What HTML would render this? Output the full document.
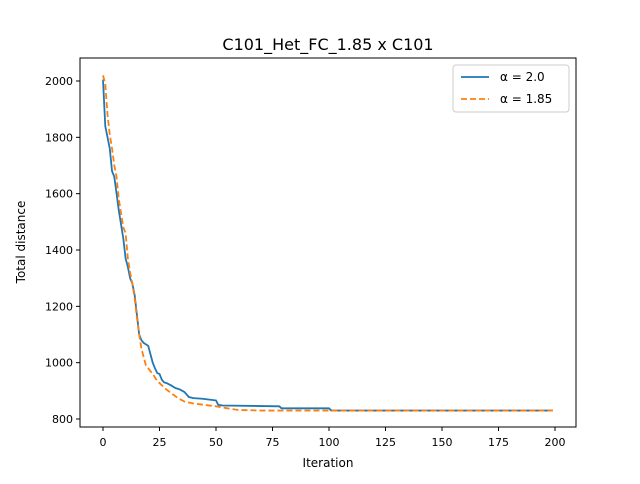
<!DOCTYPE html>
<html><head><meta charset="utf-8"><style>
body{margin:0;background:#fff;font-family:"DejaVu Sans","Liberation Sans",sans-serif}
</style></head><body>
<svg id="chart" width="640" height="480" xmlns="http://www.w3.org/2000/svg" font-family="DejaVu Sans, Liberation Sans, sans-serif">
<rect width="640" height="480" fill="#fff"/>
<text x="328" y="50" font-size="16" text-anchor="middle">C101_Het_FC_1.85 x C101</text>
<g id="plot"></g>
<rect x="80" y="58" width="496" height="369" fill="none" stroke="#000" stroke-width="1"/>
<text x="328" y="467" font-size="12" text-anchor="middle">Iteration</text>
<text x="25" y="242" font-size="12" text-anchor="middle" transform="rotate(-90 25 242)">Total distance</text>
<g>
<rect x="453" y="65" width="116" height="47" fill="#fff" stroke="#ccc" rx="3"/>
<line x1="461" y1="77" x2="489" y2="77" stroke="#1f77b4" stroke-width="1.8"/>
<text x="500" y="81" font-size="12">α = 2.0</text>
<line x1="461" y1="99" x2="489" y2="99" stroke="#ff7f0e" stroke-width="1.8" stroke-dasharray="6,3"/>
<text x="500" y="103" font-size="12">α = 1.85</text>
</g>
</svg>
<script>
const xTicks=[0,25,50,75,100,125,150,175,200];
const yTicks=[800,1000,1200,1400,1600,1800,2000];
const blueIter=[0,1,2,3,4,5,6,7,8,9,10,11,12,13,14,15,16,17,18,19,20,21,22,23,24,25,26,27,28,30,32,34,36,38,40,44,48,50,51,53,78,79,100,101,199];
const blueVal=[2005,1840,1800,1760,1680,1660,1600,1540,1490,1440,1370,1340,1300,1280,1240,1170,1100,1080,1070,1065,1060,1030,1000,980,963,960,940,930,928,920,910,905,896,878,874,872,868,866,850,848,845,838,838,830,830];
const orangeIter=[0,1,2,3,4,5,6,7,8,9,10,11,12,13,14,15,16,17,18,19,20,22,24,26,28,30,33,36,40,45,50,55,60,70,100,199];
const orangeVal=[2020,1990,1880,1810,1760,1700,1660,1580,1530,1480,1460,1370,1320,1280,1230,1160,1100,1050,1020,990,980,960,935,920,905,893,875,862,855,850,845,838,832,830,830,830];
const NS="http://www.w3.org/2000/svg";
const X=v=>103+v*(555-103)/200;
const Y=v=>419-(v-800)*(419-81)/1200;
const svg=document.getElementById('chart');
const plot=document.getElementById('plot');
function mk(t,a){const e=document.createElementNS(NS,t);for(const k in a)e.setAttribute(k,a[k]);return e;}
xTicks.forEach(t=>{
 const l=mk('line',{x1:X(t),x2:X(t),y1:427,y2:431,stroke:'#000'});
 
 
 svg.appendChild(l);
 const tx=mk('text',{x:X(t),y:446,'font-size':11,'text-anchor':'middle'});tx.textContent=t;
 
 
 svg.appendChild(tx);
});
yTicks.forEach(t=>{
 const l=mk('line',{x1:76,x2:80,y1:Y(t),y2:Y(t),stroke:'#000'});
 
 
 svg.appendChild(l);
 const tx=mk('text',{x:73,y:Y(t)+4,'font-size':11,'text-anchor':'end'});tx.textContent=t;
 
 
 svg.appendChild(tx);
});
function line(xs,ys,color,dash,name){
 const d=xs.map((x,i)=>(i?'L':'M')+X(x).toFixed(2)+','+Y(ys[i]).toFixed(2)).join('');
 const p=mk('path',{d:d,fill:'none',stroke:color,'stroke-width':1.8});
 if(dash)p.setAttribute('stroke-dasharray',dash);
 
 
 plot.appendChild(p);
}
line(blueIter,blueVal,'#1f77b4',null,'series-alpha-2');
line(orangeIter,orangeVal,'#ff7f0e','6,3','series-alpha-185');
</script>
</body></html>
